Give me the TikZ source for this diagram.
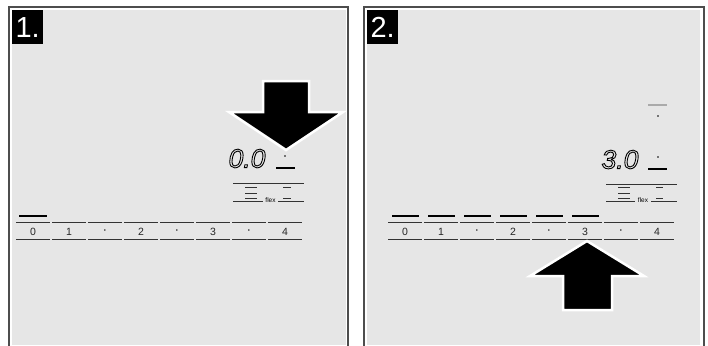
\documentclass[tikz,border=0pt]{standalone}
\usepackage{fontspec}
\setmainfont{Liberation Sans}
\definecolor{framegray}{RGB}{77,77,77}
\definecolor{panelgray}{RGB}{230,230,230}
\definecolor{inactivegray}{RGB}{170,170,170}
\newcommand{\hollow}[1]{\special{pdf:code 1 Tr 0.9 w}#1\special{pdf:code 0 Tr}}

\begin{document}
\begin{tikzpicture}[x=1pt, y=-1pt,
    frame/.style={draw=framegray, line width=2pt},
    panel/.style={fill=panelgray},
    stepno/.style={fill=black, text=white, anchor=north west, inner sep=0pt,
                   minimum width=31pt, minimum height=34pt,
                   font=\fontsize{29}{29}\selectfont},
    cell/.style={draw=black!80, line width=0.9pt},
    level/.style={draw=black, line width=1.8pt},
    bigarrow/.style={fill=black, draw=white, line width=2.5pt, line join=miter},
    scalenum/.style={inner sep=0pt, text=black!85, font=\fontsize{10.5}{10.5}\selectfont},
    readout/.style={inner sep=0pt, font=\fontsize{26.5}{26.5}\selectfont\itshape},
    flexlabel/.style={inner sep=0pt, font=\fontsize{6.5}{6.5}\selectfont}]
  \useasboundingbox (0,0) rectangle (708,345);

  % Panels
  \path[panel] (11.5,10) rectangle (346,345);
  \draw[frame] (9,346) |- (348.3,7) -- (348.3,346);
  \path[panel] (366.7,10) rectangle (700,345);
  \draw[frame] (364.3,346) |- (704.3,7) -- (704.3,346);
  \node[stepno] (step1) at (12,10) {1.};
  \node[stepno] (step2) at (367,10) {2.};

  % Panel 1
  \foreach \lab [count=\i from 0] in {0,1,{\fontsize{6}{6}\selectfont\textbullet},2,{\fontsize{6}{6}\selectfont\textbullet},3,{\fontsize{6}{6}\selectfont\textbullet},4} {
    \draw[cell] (16+36*\i,222.5) -- ++(34,0);
    \draw[cell] (16+36*\i,239.5) -- ++(34,0);
    \node[scalenum] (a\i) at (33+36*\i,231.5) {\lab};
  }
  \draw[level] (19,216) -- (47,216);
  \node[readout] (read1) at (247,158.5) {\hollow{0.0}};
  \fill (285,156) circle (0.9);
  \draw[level] (276,168.3) -- (294.5,168.3);
  \draw[cell] (233,183) -- (304,183);
  \foreach \y in {187,193,198} \draw[cell] (245,\y) -- (257,\y);
  \foreach \y in {187,198} \draw[cell] (283,\y) -- (291,\y);
  \draw[cell] (233,201) -- (263,201);
  \draw[cell] (278,201) -- (304,201);
  \node[flexlabel] (flex1) at (270.5,200) {flex};
  \draw[bigarrow] (263,81) -- (309,81) -- (309,112) -- (343,112) -- (286,150)
    -- (229,112) -- (263,112) -- cycle;

  % Panel 2
  \begin{scope}[xshift=372pt]
    \foreach \lab [count=\i from 0] in {0,1,{\fontsize{6}{6}\selectfont\textbullet},2,{\fontsize{6}{6}\selectfont\textbullet},3,{\fontsize{6}{6}\selectfont\textbullet},4} {
      \draw[cell] (16+36*\i,222.5) -- ++(34,0);
      \draw[cell] (16+36*\i,239.5) -- ++(34,0);
      \node[scalenum] (b\i) at (33+36*\i,231.5) {\lab};
    }
    \foreach \i in {0,...,5} \draw[level] (20+36*\i,216) -- ++(27,0);
    \draw[inactivegray, line width=1.8pt] (276,105) -- (295,105);
    \fill (286,116) circle (0.9);
    \node[readout] (read2) at (248,159.5) {\hollow{3.0}};
    \fill (286,157) circle (0.9);
    \draw[level] (276,169) -- (295,169);
    \draw[cell] (234,184) -- (305,184);
    \foreach \y in {187,193,198} \draw[cell] (246,\y) -- (258,\y);
    \foreach \y in {187,198} \draw[cell] (284,\y) -- (291,\y);
    \draw[cell] (234,201) -- (263,201);
    \draw[cell] (279,201) -- (305,201);
    \node[flexlabel] (flex2) at (271,200) {flex};
    \draw[bigarrow] (191,310) -- (240,310) -- (240,276) -- (272,276) -- (215,241)
      -- (158,276) -- (191,276) -- cycle;
  \end{scope}
\end{tikzpicture}
\end{document}
